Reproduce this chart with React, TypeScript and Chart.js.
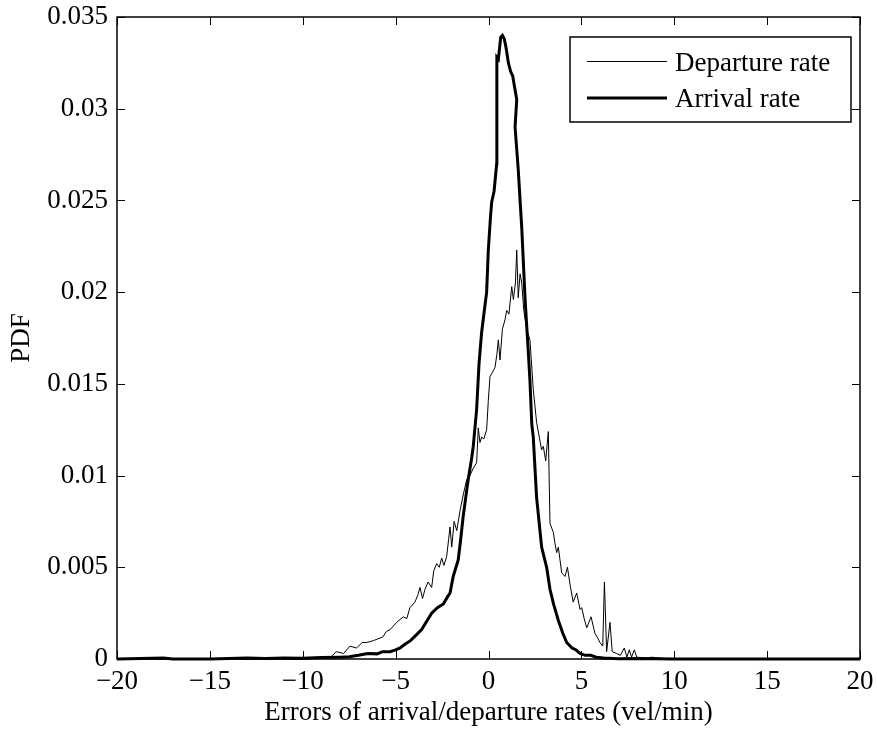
import React, { useEffect, useRef } from "react";
import { Chart, registerables } from "chart.js";

Chart.register(...registerables);

// ---------- data ----------
const xTickValues = [-20, -15, -10, -5, 0, 5, 10, 15, 20];
const yTickValues = [0, 0.005, 0.01, 0.015, 0.02, 0.025, 0.03, 0.035];

const seriesLabels = ["Departure rate", "Arrival rate"];
const xAxisTitle = "Errors of arrival/departure rates (vel/min)";
const yAxisTitle = "PDF";

const departureX = [
  -20, -10, -9, -8.5, -8.2, -7.8, -7.46, -7.1, -6.8, -6.56, -6.2, -5.95, -5.69, -5.5, -5.3,
  -4.94, -4.59, -4.4, -4.23, -3.96, -3.8, -3.69, -3.55, -3.42, -3.25, -3.06, -2.95, -2.79,
  -2.65, -2.52, -2.4, -2.25, -2.15, -2.07, -1.98, -1.85, -1.71, -1.53, -1.35, -1.17, -1.0,
  -0.82, -0.64, -0.55, -0.46, -0.37, -0.25, -0.1, -0.01, 0.08, 0.2, 0.35, 0.45, 0.53, 0.62,
  0.75, 0.89, 0.98, 1.1, 1.25, 1.34, 1.45, 1.52, 1.6, 1.7, 1.79, 1.9, 2.05, 2.23, 2.41, 2.59,
  2.75, 2.86, 2.95, 3.08, 3.22, 3.31, 3.49, 3.58, 3.67, 3.76, 3.94, 4.12, 4.25, 4.4, 4.56,
  4.75, 4.93, 5.02, 5.15, 5.29, 5.52, 5.73, 5.9, 6.0, 6.15, 6.24, 6.36, 6.54, 6.66, 6.9, 7.1,
  7.31, 7.45, 7.58, 7.7, 7.85, 7.98, 8.5, 8.8, 9.2, 10, 20,
];
const departureY = [
  0, 0, 0.00005, 0.0001, 0.0004, 0.0003, 0.0007, 0.0006, 0.0009, 0.0009, 0.001, 0.0011, 0.0012,
  0.0015, 0.0016, 0.002, 0.0023, 0.0022, 0.0028, 0.0031, 0.0035, 0.0039, 0.0033, 0.0038, 0.0042,
  0.0039, 0.0048, 0.0052, 0.005, 0.0055, 0.0051, 0.0056, 0.0065, 0.0072, 0.0061, 0.0075, 0.007,
  0.0081, 0.009, 0.0098, 0.01, 0.0104, 0.0107, 0.0126, 0.0118, 0.0121, 0.012, 0.0125, 0.0141,
  0.0154, 0.0156, 0.0159, 0.0166, 0.0174, 0.0163, 0.018, 0.0185, 0.019, 0.0188, 0.0203, 0.0196,
  0.0205, 0.0223, 0.0197, 0.021, 0.0205, 0.019, 0.018, 0.0174, 0.0147, 0.0129, 0.012, 0.0114,
  0.0116, 0.0108, 0.0124, 0.0074, 0.0069, 0.0063, 0.0058, 0.0061, 0.0047, 0.0045, 0.005, 0.004,
  0.0031, 0.0036, 0.0027, 0.0028, 0.0022, 0.0017, 0.0023, 0.0014, 0.0011, 0.0009, 0.0007, 0.0042,
  0.0004, 0.002, 0.0004, 0.0003, 0.0002, 0.0006, 0.0001, 0.0005, 0.0001, 0.0005, 0.0001, 0.00005,
  0.0001, 0.00005, 0, 0,
];

const arrivalX = [
  -20, -17.5, -17, -15, -14, -13, -12, -11, -10, -9, -8, -7.5, -7, -6.5, -6, -5.7, -5.3, -5,
  -4.76, -4.5, -4.2, -3.9, -3.6, -3.3, -3.06, -2.75, -2.43, -2.2, -2.07, -1.9, -1.63, -1.5,
  -1.36, -1.2, -1.09, -0.9, -0.82, -0.64, -0.51, -0.37, -0.2, -0.1, -0.01, 0.1, 0.17, 0.3, 0.44,
  0.45, 0.53, 0.66, 0.75, 0.85, 0.95, 1.07, 1.2, 1.3, 1.52, 1.43, 1.6, 1.7, 1.79, 1.97, 2.14,
  2.23, 2.33, 2.41, 2.59, 2.75, 2.86, 3.13, 3.31, 3.5, 3.76, 4.0, 4.21, 4.5, 4.7, 4.93, 5.2, 5.5,
  5.8, 6.2, 7, 8, 10, 20,
];
const arrivalY = [
  0, 0.00005, 0, 0, 0.00003, 0.00005, 0.00003, 0.00006, 0.00004, 0.00008, 0.0001, 0.00012, 0.0002,
  0.0003, 0.00028, 0.0004, 0.0004, 0.0005, 0.0006, 0.0008, 0.001, 0.0013, 0.0016, 0.0021, 0.0025,
  0.0028, 0.003, 0.0034, 0.0036, 0.0045, 0.0054, 0.0065, 0.0078, 0.009, 0.0098, 0.011, 0.0116,
  0.0136, 0.0161, 0.0178, 0.0192, 0.02, 0.0223, 0.024, 0.0249, 0.0255, 0.027, 0.0328, 0.0327,
  0.0339, 0.034, 0.0338, 0.0333, 0.0325, 0.032, 0.0318, 0.0305, 0.029, 0.0267, 0.025, 0.0235,
  0.0196, 0.0168, 0.0152, 0.0128, 0.0121, 0.0088, 0.0072, 0.0061, 0.005, 0.0038, 0.003, 0.0021,
  0.0014, 0.0009, 0.0006, 0.0005, 0.0003, 0.0002, 0.0002, 0.0001, 0.00005, 0.00002, 0.00003, 0, 0,
];

// ---------- styling ----------
const FONT_FAMILY = "'Liberation Serif', 'Times New Roman', serif";
const FONT_SIZE = 27;

const formatX = (v: number) => (v < 0 ? "\u2212" + Math.abs(v) : String(v));
const formatY = (v: number) => String(+v.toFixed(3));

const framePlugin = {
  id: "matlabFrame",
  afterDatasetsDraw(chart: any) {
    const { ctx, chartArea, scales } = chart;
    const { left, right, top, bottom } = chartArea;
    const xs = scales.x;
    const ys = scales.y;
    const tick = 8;
    ctx.save();
    ctx.strokeStyle = "#000";
    ctx.lineWidth = 1.5;
    ctx.strokeRect(left, top, right - left, bottom - top);
    ctx.beginPath();
    xTickValues.forEach((v) => {
      const px = Math.round(xs.getPixelForValue(v)) + 0.5;
      ctx.moveTo(px, bottom);
      ctx.lineTo(px, bottom - tick);
      ctx.moveTo(px, top);
      ctx.lineTo(px, top + tick);
    });
    yTickValues.forEach((v) => {
      const py = Math.round(ys.getPixelForValue(v)) + 0.5;
      ctx.moveTo(left, py);
      ctx.lineTo(left + tick, py);
      ctx.moveTo(right, py);
      ctx.lineTo(right - tick, py);
    });
    ctx.lineWidth = 1;
    ctx.stroke();

    // legend
    const bx = right - 290;
    const by = top + 20;
    const bw = 281;
    const bh = 85;
    ctx.fillStyle = "#fff";
    ctx.fillRect(bx, by, bw, bh);
    ctx.lineWidth = 1.5;
    ctx.strokeRect(bx, by, bw, bh);
    const widths = [1, 3];
    const rowY = [by + 24.5, by + 61];
    seriesLabels.forEach((label, i) => {
      ctx.beginPath();
      ctx.lineWidth = widths[i];
      ctx.moveTo(bx + 17, rowY[i]);
      ctx.lineTo(bx + 97, rowY[i]);
      ctx.stroke();
      ctx.fillStyle = "#000";
      ctx.font = `${FONT_SIZE}px ${FONT_FAMILY}`;
      ctx.textBaseline = "alphabetic";
      ctx.textAlign = "left";
      ctx.fillText(label, bx + 105, Math.round(rowY[i]) + 8.5);
    });
    ctx.restore();
  },
};

const zeroPadding = (s: any) => {
  s.paddingTop = 0;
  s.paddingBottom = 0;
  s.paddingLeft = 0;
  s.paddingRight = 0;
};

export default function App() {
  const canvasRef = useRef<HTMLCanvasElement | null>(null);

  useEffect(() => {
    const canvas = canvasRef.current;
    if (!canvas) return;
    const font = { family: FONT_FAMILY, size: FONT_SIZE };
    const chart = new Chart(canvas, {
      type: "line",
      data: {
        datasets: [
          {
            label: seriesLabels[1],
            data: arrivalX.map((x, i) => ({ x, y: arrivalY[i] })),
            borderColor: "#000",
            borderWidth: 3,
            pointRadius: 0,
            tension: 0,
            fill: false,
            clip: 4,
          },
          {
            label: seriesLabels[0],
            data: departureX.map((x, i) => ({ x, y: departureY[i] })),
            borderColor: "#000",
            borderWidth: 1,
            pointRadius: 0,
            tension: 0,
            fill: false,
            clip: 4,
          },
        ],
      },
      options: {
        responsive: false,
        animation: false,
        events: [],
        layout: { padding: { left: 0, right: 17, top: 17, bottom: 0 } },
        plugins: { legend: { display: false }, tooltip: { enabled: false } },
        scales: {
          x: {
            type: "linear",
            min: -20,
            max: 20,
            afterBuildTicks: (s: any) => {
              s.ticks = xTickValues.map((value) => ({ value }));
            },
            afterFit: (s: any) => {
              s.height = 70;
              zeroPadding(s);
            },
            grid: { display: false, drawTicks: false },
            border: { display: false },
            ticks: {
              font,
              color: "#000",
              padding: 7,
              maxRotation: 0,
              autoSkip: false,
              callback: (v: any) => formatX(Number(v)),
            },
            title: {
              display: true,
              text: xAxisTitle,
              font,
              color: "#000",
              padding: { top: 0, bottom: 0 },
            },
          },
          y: {
            type: "linear",
            min: 0,
            max: 0.035,
            afterBuildTicks: (s: any) => {
              s.ticks = yTickValues.map((value) => ({ value }));
            },
            afterFit: (s: any) => {
              s.width = 117;
              zeroPadding(s);
            },
            grid: { display: false, drawTicks: false },
            border: { display: false },
            ticks: {
              font,
              color: "#000",
              padding: 9,
              autoSkip: false,
              callback: (v: any) => formatY(Number(v)),
            },
            title: {
              display: true,
              text: yAxisTitle,
              font,
              color: "#000",
              padding: { top: 6, bottom: 0 },
            },
          },
        },
      },
      plugins: [framePlugin],
    });
    return () => chart.destroy();
  }, []);

  return (
    <div style={{ position: "absolute", left: 0, top: 0, width: 877, height: 729, background: "#fff" }}>
      <canvas ref={canvasRef} width={877} height={729} style={{ display: "block" }} />
    </div>
  );
}
